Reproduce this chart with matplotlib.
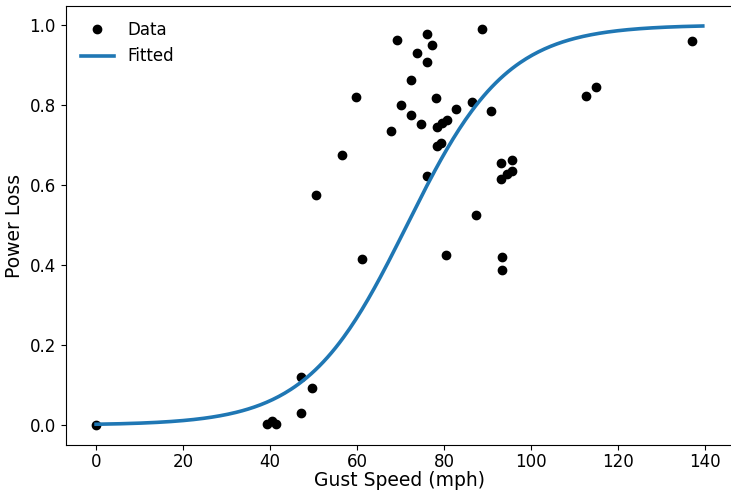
import numpy as np
import matplotlib
matplotlib.use("Agg")
import matplotlib.pyplot as plt

# gust speed (mph) and observed power loss
gust = [0.0, 39.4, 40.5, 41.4, 47.2, 49.6, 47.2,
        50.6, 56.6, 59.7, 61.1, 67.7, 69.1, 70.2, 72.4, 72.4, 73.7,
        74.6, 76.0, 76.0, 76.0, 77.2, 78.2, 78.4, 79.5, 80.6, 78.3,
        79.3, 80.5, 82.8, 86.4, 87.4, 88.7, 90.8, 93.2, 95.6, 95.6,
        94.5, 93.2, 93.3, 93.3, 112.7, 115.0, 137.0]
loss = [0.0, 0.003, 0.009, 0.002, 0.119, 0.093, 0.029,
        0.575, 0.674, 0.821, 0.416, 0.736, 0.963, 0.800, 0.863, 0.774, 0.931,
        0.753, 0.977, 0.908, 0.622, 0.949, 0.818, 0.744, 0.756, 0.763, 0.697,
        0.704, 0.424, 0.789, 0.808, 0.526, 0.991, 0.784, 0.654, 0.662, 0.635,
        0.628, 0.615, 0.419, 0.388, 0.823, 0.845, 0.959]

# logistic fit parameters
k_fit = 0.087
x0_fit = 71.5
xfit = np.linspace(0, 139.5, 300)
yfit = 1.0 / (1.0 + np.exp(-k_fit * (xfit - x0_fit)))

fig = plt.figure(figsize=(7.31, 4.91), dpi=100)
ax = fig.add_axes([0.0899, 0.0937, 0.913, 0.894])

ax.plot(gust, loss, 'ko', markersize=6, label='Data')
ax.plot(xfit, yfit, color='#1f77b4', linewidth=2.6, label='Fitted')

ax.set_xlabel('Gust Speed (mph)', fontsize=13.5, labelpad=0)
ax.set_ylabel('Power Loss', fontsize=13.5)
ax.tick_params(labelsize=12)
ax.tick_params(axis='x', pad=2.5)
ax.set_xticks([0, 20, 40, 60, 80, 100, 120, 140])
ax.set_yticks([0.0, 0.2, 0.4, 0.6, 0.8, 1.0])
ax.legend(loc='upper left', fontsize=12, numpoints=1, frameon=False)

fig.savefig('out.png', dpi=100)
